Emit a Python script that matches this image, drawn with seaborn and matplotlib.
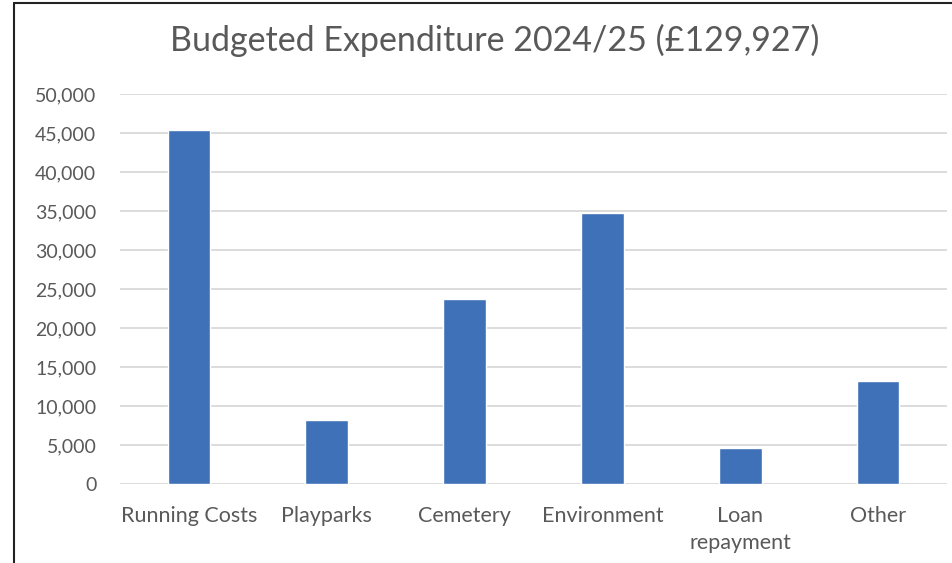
import pandas as pd
import seaborn as sns
import matplotlib.pyplot as plt
from matplotlib.lines import Line2D
from matplotlib.ticker import FuncFormatter

# Budget data
categories = ['Running Costs', 'Playparks', 'Cemetery', 'Environment', 'Loan\nrepayment', 'Other']
amounts = [45400, 8200, 23700, 34700, 4600, 13200]
title = 'Budgeted Expenditure 2024/25 (£129,927)'

df = pd.DataFrame({'category': categories, 'amount': amounts})

sns.set_theme(style='whitegrid')
plt.rcParams['font.family'] = ['Lato', 'DejaVu Sans']
grey = '#595959'

fig = plt.figure(figsize=(9.53, 5.63), dpi=100)
ax = fig.add_axes([120 / 953, 1 - 484 / 563, (947 - 120) / 953, (484 - 94) / 563])

sns.barplot(data=df, x='category', y='amount', color='#3F71B8', width=0.31,
            saturation=1, ax=ax, zorder=3)

ax.set_ylim(0, 50000)
ax.set_yticks(range(0, 50001, 5000))
ax.yaxis.set_major_formatter(FuncFormatter(lambda v, p: f'{int(v):,}'))
ax.set_xlabel('')
ax.set_ylabel('')
ax.grid(axis='y', color='#d9d9d9', linewidth=1.3)
ax.grid(axis='x', visible=False)
for s in ax.spines.values():
    s.set_visible(False)
ax.tick_params(axis='y', length=0, pad=17, labelsize=14, labelcolor=grey)
ax.tick_params(axis='x', length=0, pad=16, labelsize=15.5, labelcolor=grey)
for lbl in ax.get_xticklabels():
    lbl.set_linespacing(1.45)
ax.set_facecolor('white')

fig.text(495 / 953, 1 - 40 / 563, title, ha='center', va='center', fontsize=24.5, color=grey)

# chart frame (left and top edges visible in the screenshot)
fig.add_artist(Line2D([14 / 953, 14 / 953], [0, 1 - 3 / 563], color='#222222', linewidth=1.5))
fig.add_artist(Line2D([14 / 953, 1], [1 - 3 / 563, 1 - 3 / 563], color='#222222', linewidth=1.5))

fig.savefig('out.png', dpi=100, facecolor='white')
